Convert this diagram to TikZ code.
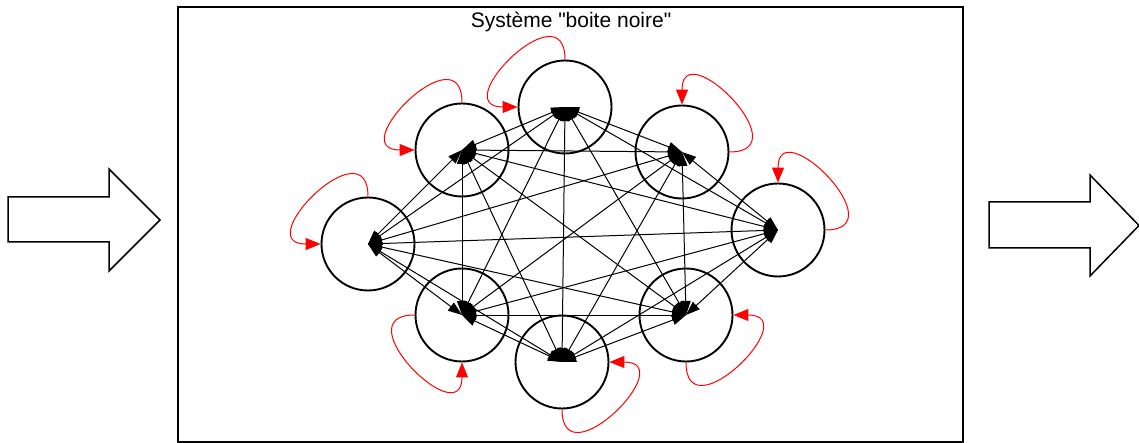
\documentclass[tikz,border=0pt]{standalone}
\usepackage{fontspec}
\setmainfont{Liberation Sans}[Ligatures=TeXOff]
\usetikzlibrary{arrows.meta}
\begin{document}
\begin{tikzpicture}[x=1pt,y=-1pt,
  neuron/.style={circle,draw=black,line width=1.9pt,minimum size=93pt,inner sep=0pt},
  link/.style={draw=black,line width=1pt,{Triangle[length=14pt,width=10pt]}-{Triangle[length=14pt,width=10pt]}},
  selfloop/.style={draw=red,line width=1pt,-{Triangle[length=15pt,width=12pt]}},
  bigarrow/.style={draw=black,line width=1.5pt,fill=white,line join=miter},
  frame/.style={draw=black,line width=2pt}]
\useasboundingbox (0,0) rectangle (1139,443);
\clip (0,0) rectangle (1139,443);
% frame and title
\draw[frame] (178,7) rectangle (963,442);
\node[anchor=base,font=\fontsize{21}{25}\selectfont] (title) at (571,28) {Système "boite noire"};
% input / output arrows
\draw[bigarrow] (8,197) -- (109,197) -- (109,169) -- (160,220) -- (109,271) -- (109,242) -- (8,242) -- cycle;
\draw[bigarrow] (989,202) -- (1090,202) -- (1090,175) -- (1139,225.5) -- (1090,276) -- (1090,248) -- (989,248) -- cycle;
% neurons
\node[neuron] (T)  at (565,107) {};
\node[neuron] (UL) at (462,150) {};
\node[neuron] (L)  at (368,244) {};
\node[neuron] (LL) at (462,315) {};
\node[neuron] (B)  at (562,362) {};
\node[neuron] (LR) at (686,315) {};
\node[neuron] (R)  at (778,230) {};
\node[neuron] (UR) at (682,152) {};
% complete graph
\foreach \a/\b in {T/UL,T/L,T/LL,T/B,T/LR,T/R,T/UR,
                   UL/L,UL/LL,UL/B,UL/LR,UL/R,UL/UR,
                   L/LL,L/B,L/LR,L/R,L/UR,
                   LL/B,LL/LR,LL/R,LL/UR,
                   B/LR,B/R,B/UR,
                   LR/R,LR/UR,
                   R/UR}
  \draw[link] (\a.center) -- (\b.center);
% self loops (angles measured on the page, y axis flipped)
\def\d{72}
\foreach \n/\s/\e in {T/90/180,UL/90/180,L/90/180,UR/0/90,R/0/90,LR/270/0,B/270/0,LL/180/270}
  \draw[selfloop] (\n.\s) .. controls +({cos(\s)*\d},{-sin(\s)*\d}) and +({cos(\e)*\d},{-sin(\e)*\d}) .. (\n.\e);
\end{tikzpicture}
\end{document}
